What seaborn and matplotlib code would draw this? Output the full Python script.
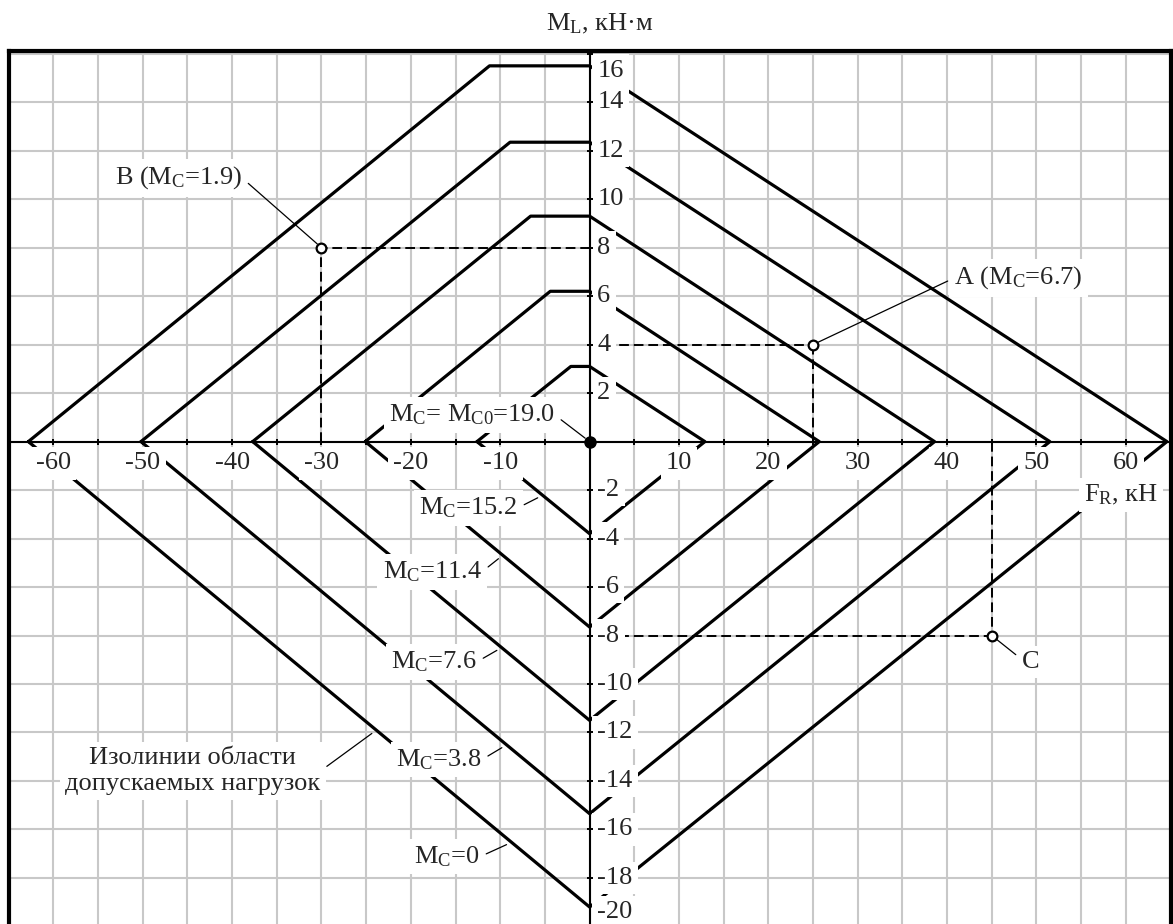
import numpy as np
import pandas as pd
import matplotlib
matplotlib.use('Agg')
import matplotlib.pyplot as plt
import seaborn as sns

# isolines of the allowed load region (one closed line per M_C value)
mc_levels = [15.2, 11.4, 7.6, 3.8, 0.0]
fr_left = [-12.6, -25.1, -37.7, -50.2, -62.8]
fr_flat = [-2.1, -4.4, -6.6, -8.9, -11.2]
fr_right = [12.9, 25.7, 38.6, 51.5, 64.6]
ml_top = [3.1, 6.2, 9.3, 12.35, 15.5]
ml_bottom = [-3.8, -7.65, -11.5, -15.35, -19.2]

# check points
point_names = ['A', 'B', 'C']
point_fr = [25, -30, 45]
point_ml = [4, 8, -8]
point_mc = [6.7, 1.9, None]
mc0 = 19.0

x_ticklabels = [-60, -50, -40, -30, -20, -10, 10, 20, 30, 40, 50, 60]
y_ticklabels = [16, 14, 12, 10, 8, 6, 4, 2, -2, -4, -6, -8, -10, -12, -14, -16, -18, -20]

sns.set_style('white')
plt.rcParams['font.family'] = ['Liberation Serif', 'DejaVu Serif']
plt.rcParams['mathtext.fontset'] = 'custom'
plt.rcParams['mathtext.rm'] = 'Liberation Serif'
plt.rcParams['mathtext.it'] = 'Liberation Serif:italic'

rows = []
for mc, l, xf, r, t, b in zip(mc_levels, fr_left, fr_flat, fr_right, ml_top, ml_bottom):
    for x, y in zip([l, xf, 0, r, 0, l], [0, t, t, 0, b, 0]):
        rows.append({'M_C': mc, 'F_R': x, 'M_L': y})
df = pd.DataFrame(rows)

fig = plt.figure(figsize=(11.73, 9.24), dpi=100)
ax = fig.add_axes([8.7 / 1173, 0, 1161.8 / 1173, 872.7 / 924])

# grid
ax.set_xticks(np.arange(-65, 66, 5))
ax.set_yticks(np.arange(-20, 17, 2))
ax.grid(True, color='#c8c8c8', lw=1.5, zorder=0)
ax.tick_params(length=0, labelbottom=False, labelleft=False)

# axes cross
ax.axhline(0, color='black', lw=1.5, zorder=6)
ax.axvline(0, color='black', lw=1.5, zorder=6)
xt = [v for v in range(-60, 61, 5) if v != 0]
yt = [v for v in range(-20, 17, 2) if v != 0]
ax.plot(xt, np.zeros(len(xt)), '|', color='black', ms=5, mew=1.4, zorder=6)
ax.plot(np.zeros(len(yt)), yt, '_', color='black', ms=5, mew=1.4, zorder=6)

sns.lineplot(data=df, x='F_R', y='M_L', units='M_C', estimator=None, sort=False,
             color='black', linewidth=2.3, ax=ax, legend=False, zorder=2)

# projections of the check points on the axes
for x, y in zip(point_fr, point_ml):
    ax.plot([0, x], [y, y], color='black', lw=1.4, dashes=(5, 2.5), zorder=3)
    ax.plot([x, x], [0, y], color='black', lw=1.4, dashes=(5, 2.5), zorder=3)
ax.plot(point_fr, point_ml, 'o', ms=7, mfc='white', mec='black', mew=1.6, zorder=4)
ax.plot([0], [0], 'o', ms=8, color='black', zorder=7)

box = dict(boxstyle='square,pad=0.2', fc='white', ec='none')
fs = 19

def leader(text, xy, xytext, ha, relpos, **kw):
    ax.annotate(text, xy=xy, xytext=xytext, ha=ha, va='center', fontsize=fs,
                bbox=box, zorder=5,
                arrowprops=dict(arrowstyle='-', lw=0.9, color='black',
                                shrinkA=1, shrinkB=4, relpos=relpos), **kw)

# tick labels (the end ones are pulled inside the frame)
for v in x_ticklabels:
    ax.text(v, -0.9, str(v), ha='center', va='center', fontsize=fs, bbox=box, zorder=5)
for v in y_ticklabels:
    ax.text(0.85, min(max(v, -19.4), 15.3), str(v), ha='left', va='center',
            fontsize=fs, bbox=box, zorder=5)

# isoline labels, leaders end on the lower-left branch
label_layout = {15.2: (-8.05, -2.74, 0.583), 11.4: (-12.07, -5.38, 0.613),
                7.6: (-12.63, -9.09, 0.739), 3.8: (-12.1, -13.13, 0.815),
                0.0: (-12.3, -17.13, 0.861)}
for i, mc in enumerate(mc_levels):
    tx, ty, t = label_layout[mc]
    xy = (fr_left[i] * (1 - t), ml_bottom[i] * t)
    leader(r'$\mathrm{M_C}$=' + f'{mc:g}', xy, (tx, ty), 'right', (1, 0.5))

t = 0.62
leader('Изолинии области\nдопускаемых нагрузок',
       (fr_left[-1] * (1 - t), ml_bottom[-1] * t), (-44.4, -13.59), 'center', (1, 0.5),
       multialignment='center')

leader(r'$\mathrm{M_C}$= $\mathrm{M_{C0}}$=' + f'{mc0:.1f}', (0, 0), (-3.9, 1.1), 'right', (1, 0.5))

text_layout = {'A': (40.8, 6.75, 'left', (0, 0.5)),
               'B': (-38.9, 10.88, 'right', (1, 0.5)),
               'C': (48.4, -9.09, 'left', (0, 0.6))}
for name, x, y, mc in zip(point_names, point_fr, point_ml, point_mc):
    label = name if mc is None else name + r' ($\mathrm{M_C}$=' + f'{mc:g})'
    tx, ty, ha, rp = text_layout[name]
    leader(label, (x, y), (tx, ty), ha, rp)

ax.text(55.3, -2.2, r'$\mathrm{F_R}$, кН', ha='left', va='center', fontsize=fs, bbox=box, zorder=5)
fig.text(600 / 1173, 1 - 24 / 924, r'$\mathrm{M_L}$, кН·м', ha='center', va='center', fontsize=fs)

ax.set_xlim(-65, 65)
ax.set_ylim(-19.9, 16.1)
ax.set_xlabel('')
ax.set_ylabel('')
for side in ['top', 'left', 'right']:
    ax.spines[side].set_visible(True)
    ax.spines[side].set_color('black')
    ax.spines[side].set_linewidth(3)
ax.spines['bottom'].set_visible(False)

fig.savefig('out.png', dpi=100)
